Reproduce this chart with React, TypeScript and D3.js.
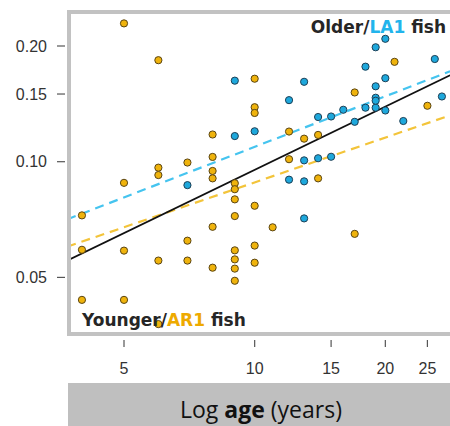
import { useEffect, useRef } from "react";
import * as d3 from "d3";

// Younger / AR1 fish: [age (years), value]
const youngerAges = [5, 6, 7, 6, 6, 8, 8, 8, 8, 5, 4, 4, 5, 6, 7, 7, 8, 8, 4, 5, 6, 10, 10, 10, 12, 13, 14, 12, 14, 9, 9, 9, 10, 9, 11, 10, 9, 9, 9, 9, 10, 17, 17, 21, 25];
const youngerValues = [0.229, 0.1837, 0.0995, 0.0965, 0.0923, 0.1177, 0.1029, 0.0946, 0.0905, 0.0881, 0.0725, 0.059, 0.0587, 0.0553, 0.0623, 0.0553, 0.0677, 0.053, 0.0437, 0.0437, 0.0378, 0.1644, 0.1386, 0.1339, 0.1198, 0.1148, 0.1174, 0.1015, 0.0905, 0.0879, 0.0848, 0.0798, 0.0768, 0.0722, 0.0675, 0.0605, 0.0588, 0.0557, 0.0527, 0.049, 0.0546, 0.0649, 0.1514, 0.1819, 0.1398];

// Older / LA1 fish
const olderAges = [7, 9, 13, 12, 9, 10, 13, 14, 15, 12, 13, 13, 14, 15, 16, 17, 18, 19, 20, 19, 19, 19, 20, 18, 19, 20, 26, 22, 27];
const olderValues = [0.0869, 0.1625, 0.1614, 0.1446, 0.1166, 0.12, 0.1008, 0.1021, 0.103, 0.0898, 0.0889, 0.0712, 0.1307, 0.1311, 0.1365, 0.127, 0.1382, 0.1382, 0.1359, 0.1467, 0.1441, 0.1571, 0.1649, 0.1767, 0.1985, 0.2088, 0.185, 0.1276, 0.1478];

// fitted lines, end points [age, value]
const fitAll = [[3.7, 0.0553], [28.2, 0.1678]];
const fitOlder = [[3.7, 0.0708], [28.2, 0.1719]];
const fitYounger = [[3.7, 0.0601], [28.2, 0.132]];

const xTicks = [5, 10, 15, 20, 25];
const yTicks = [0.05, 0.1, 0.15, 0.2];

const GOLD = "#efb30c";
const BLUE = "#1ea8dc";

const Chart = () => {
  const ref = useRef<SVGSVGElement>(null);

  useEffect(() => {
    const svg = d3.select(ref.current);
    svg.selectAll("*").remove();

    const frame = { left: 69, top: 12, right: 470, bottom: 334 };

    const x = d3.scaleLog().domain([5, 25]).range([124, 427.4]);
    const y = d3.scaleLog().domain([0.05, 0.2]).range([277.4, 46]);

    svg.append("defs").append("clipPath").attr("id", "plotclip")
      .append("rect")
      .attr("x", frame.left + 2).attr("y", frame.top + 2)
      .attr("width", frame.right - frame.left - 4)
      .attr("height", frame.bottom - frame.top - 4);

    // x axis title box
    svg.append("rect")
      .attr("x", 68).attr("y", 383).attr("width", 390).attr("height", 50)
      .attr("fill", "#bfbfbf");
    const title = svg.append("text")
      .attr("x", 261).attr("y", 418)
      .attr("text-anchor", "middle")
      .attr("font-family", "'Open Sans', sans-serif")
      .attr("font-size", 23)
      .attr("fill", "#111");
    title.append("tspan").text("Log ");
    title.append("tspan").attr("font-weight", "bold").text("age");
    title.append("tspan").text(" (years)");

    // y ticks
    yTicks.forEach((t) => {
      svg.append("line")
        .attr("x1", 57).attr("x2", 65)
        .attr("y1", y(t)).attr("y2", y(t))
        .attr("stroke", "#555").attr("stroke-width", 1.2);
      svg.append("text")
        .text(t.toFixed(2))
        .attr("x", 47).attr("y", y(t))
        .attr("text-anchor", "end")
        .attr("dominant-baseline", "central")
        .attr("font-family", "'Liberation Sans', Arial, sans-serif")
        .attr("font-size", 16)
        .attr("fill", "#333");
    });

    // x ticks
    xTicks.forEach((t) => {
      svg.append("line")
        .attr("x1", x(t)).attr("x2", x(t))
        .attr("y1", 340).attr("y2", 347)
        .attr("stroke", "#555").attr("stroke-width", 1.2);
      svg.append("text")
        .text(t)
        .attr("x", x(t)).attr("y", 368)
        .attr("text-anchor", "middle")
        .attr("dominant-baseline", "central")
        .attr("font-family", "'Liberation Sans', Arial, sans-serif")
        .attr("font-size", 16)
        .attr("fill", "#333");
    });

    const plot = svg.append("g").attr("clip-path", "url(#plotclip)");

    const line = d3.line<number[]>().x((d) => x(d[0])).y((d) => y(d[1]));
    plot.append("path").attr("d", line(fitOlder))
      .attr("fill", "none").attr("stroke", "#45c4ef").attr("stroke-width", 2.2)
      .attr("stroke-dasharray", "9,6");
    plot.append("path").attr("d", line(fitYounger))
      .attr("fill", "none").attr("stroke", "#f3c43a").attr("stroke-width", 2.2)
      .attr("stroke-dasharray", "9,6");
    plot.append("path").attr("d", line(fitAll))
      .attr("fill", "none").attr("stroke", "#111").attr("stroke-width", 1.8);

    youngerAges.forEach((a, i) => {
      plot.append("circle")
        .attr("cx", x(a)).attr("cy", y(youngerValues[i]))
        .attr("r", 3.6)
        .attr("fill", GOLD).attr("stroke", "#5a4514").attr("stroke-width", 1);
    });
    olderAges.forEach((a, i) => {
      plot.append("circle")
        .attr("cx", x(a)).attr("cy", y(olderValues[i]))
        .attr("r", 3.6)
        .attr("fill", BLUE).attr("stroke", "#1d3f55").attr("stroke-width", 1);
    });

    // frame
    svg.append("rect")
      .attr("x", frame.left).attr("y", frame.top)
      .attr("width", frame.right - frame.left)
      .attr("height", frame.bottom - frame.top)
      .attr("fill", "none").attr("stroke", "#c2c2c2").attr("stroke-width", 4);

    // annotations
    const older = svg.append("text")
      .attr("x", 446).attr("y", 33)
      .attr("text-anchor", "end")
      .attr("font-family", "'DejaVu Sans', sans-serif")
      .attr("font-weight", "bold")
      .attr("font-size", 17)
      .attr("fill", "#262626");
    older.append("tspan").text("Older/");
    older.append("tspan").attr("fill", "#22b4ec").text("LA1");
    older.append("tspan").text(" fish");

    const younger = svg.append("text")
      .attr("x", 82).attr("y", 326)
      .attr("font-family", "'DejaVu Sans', sans-serif")
      .attr("font-weight", "bold")
      .attr("font-size", 17)
      .attr("fill", "#262626");
    younger.append("tspan").text("Younger/");
    younger.append("tspan").attr("fill", "#eeaa00").text("AR1");
    younger.append("tspan").text(" fish");
  }, []);

  return <svg ref={ref} width={450} height={426} style={{ display: "block" }} />;
};

export default function App() {
  return (
    <div style={{ position: "fixed", left: 0, top: 0, width: 450, height: 426, overflow: "hidden", background: "#fff" }}>
      <Chart />
    </div>
  );
}
